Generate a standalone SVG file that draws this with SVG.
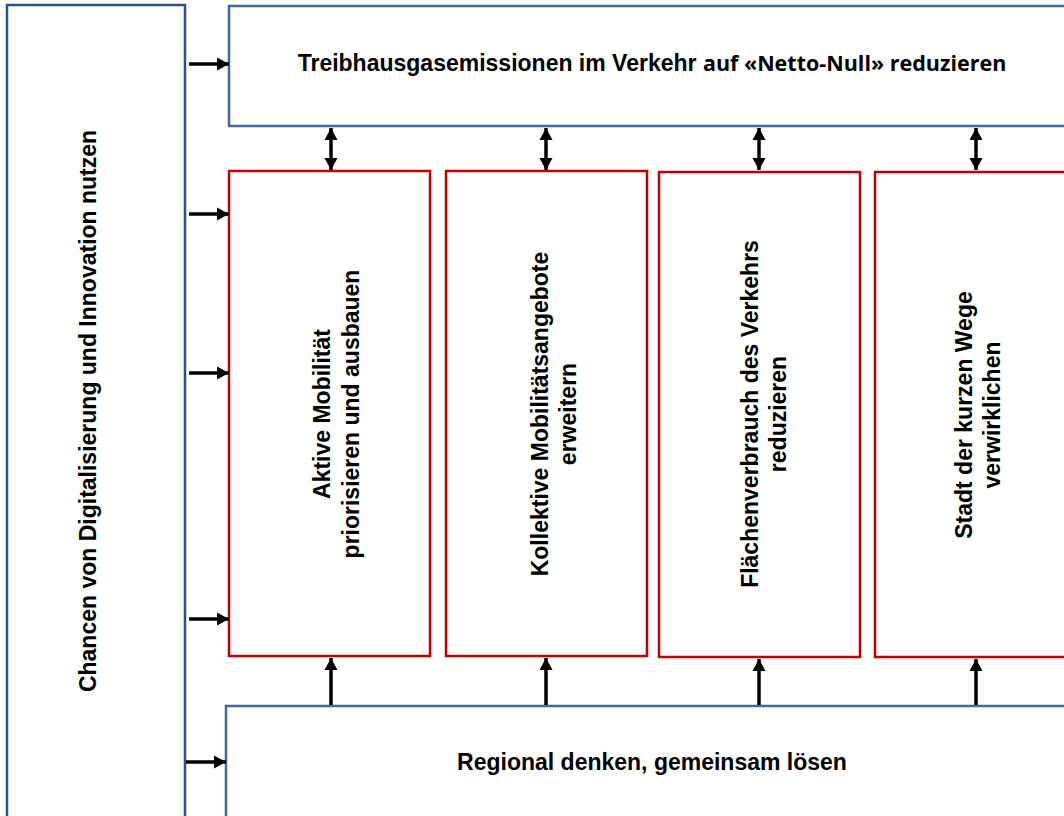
<svg xmlns="http://www.w3.org/2000/svg" width="1064" height="816" viewBox="0 0 1064 816">
<defs>
<marker id="ah" markerUnits="userSpaceOnUse" markerWidth="14" markerHeight="14" viewBox="0 0 14 14" refX="12" refY="7" orient="auto-start-reverse">
<path d="M0,0.5 L12,7 L0,13.5 Z" fill="#000"/>
</marker>
</defs>
<style>
.bl{fill:#fff;stroke:#2B5289;stroke-width:2.5}
.bm{fill:#fff;stroke:#44689A;stroke-width:2.5}
.rd{fill:#fff;stroke:#C00000;stroke-width:2.5}
.t{font-family:"Liberation Sans",Arial,sans-serif;font-weight:bold;font-size:23px;fill:#000}
.t2{font-family:"Open Sans","Noto Sans",sans-serif;font-weight:bold;font-size:21.5px}
.c{stroke:#000;stroke-width:3.5;fill:none}
</style>
<rect width="1064" height="816" fill="#fff"/>
<g id="chancen">
<rect class="bl" x="7" y="5" width="178" height="830"/>
<text class="t" transform="translate(96,411) rotate(-90)" text-anchor="middle">Chancen von Digitalisierung und Innovation nutzen</text>
</g>
<g id="treibhaus">
<rect class="bm" x="229" y="6" width="860" height="120"/>
<text class="t" x="652" y="71" text-anchor="middle">Treibhausgasemissionen im Verkehr <tspan class="t2">auf «Netto-Null» reduzieren</tspan></text>
</g>
<g id="aktiv">
<rect class="rd" x="229" y="171" width="201" height="485"/>
<text class="t" transform="translate(330,414) rotate(-90)" text-anchor="middle">Aktive Mobilität</text>
<text class="t" transform="translate(359,414) rotate(-90)" text-anchor="middle">priorisieren und ausbauen</text>
</g>
<g id="kollektiv">
<rect class="rd" x="446" y="171" width="201" height="485"/>
<text class="t" transform="translate(548,414) rotate(-90)" text-anchor="middle">Kollektive Mobilitätsangebote</text>
<text class="t" transform="translate(576,414) rotate(-90)" text-anchor="middle">erweitern</text>
</g>
<g id="flaechen">
<rect class="rd" x="659" y="172" width="201" height="485"/>
<text class="t" transform="translate(758,414) rotate(-90)" text-anchor="middle">Flächenverbrauch des Verkehrs</text>
<text class="t" transform="translate(786,414) rotate(-90)" text-anchor="middle">reduzieren</text>
</g>
<g id="stadt">
<rect class="rd" x="875" y="172" width="220" height="485"/>
<text class="t" transform="translate(972,415) rotate(-90)" text-anchor="middle">Stadt der kurzen Wege</text>
<text class="t" transform="translate(1000,415) rotate(-90)" text-anchor="middle">verwirklichen</text>
</g>
<g id="regional">
<rect class="bm" x="226" y="706" width="870" height="130"/>
<text class="t" x="652" y="770" text-anchor="middle">Regional denken, gemeinsam lösen</text>
</g>
<g id="connectors">
<line class="c" x1="189" y1="64" x2="229" y2="64" marker-end="url(#ah)"/>
<line class="c" x1="189" y1="214" x2="229" y2="214" marker-end="url(#ah)"/>
<line class="c" x1="189" y1="373" x2="229" y2="373" marker-end="url(#ah)"/>
<line class="c" x1="189" y1="619" x2="229" y2="619" marker-end="url(#ah)"/>
<line class="c" x1="186" y1="762" x2="226" y2="762" marker-end="url(#ah)"/>
<line class="c" x1="331" y1="128" x2="331" y2="170" marker-start="url(#ah)" marker-end="url(#ah)"/>
<line class="c" x1="546" y1="128" x2="546" y2="170" marker-start="url(#ah)" marker-end="url(#ah)"/>
<line class="c" x1="759" y1="128" x2="759" y2="170" marker-start="url(#ah)" marker-end="url(#ah)"/>
<line class="c" x1="976" y1="128" x2="976" y2="170" marker-start="url(#ah)" marker-end="url(#ah)"/>
<line class="c" x1="331" y1="705" x2="331" y2="658" marker-end="url(#ah)"/>
<line class="c" x1="546" y1="705" x2="546" y2="658" marker-end="url(#ah)"/>
<line class="c" x1="759" y1="705" x2="759" y2="659" marker-end="url(#ah)"/>
<line class="c" x1="976" y1="705" x2="976" y2="659" marker-end="url(#ah)"/>
</g>
</svg>
